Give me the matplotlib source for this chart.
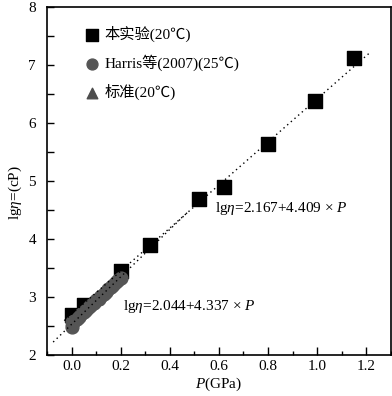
import matplotlib.pyplot as plt
from matplotlib.ticker import MultipleLocator

plt.rcParams['font.family'] = ['Liberation Serif', 'Noto Sans CJK SC', 'DejaVu Sans']
plt.rcParams['mathtext.fontset'] = 'custom'
plt.rcParams['mathtext.rm'] = 'Liberation Serif'
plt.rcParams['mathtext.it'] = 'Liberation Serif:italic'

# 本实验 (20℃)
exp_p = [0.00, 0.05, 0.20, 0.32, 0.52, 0.62, 0.80, 0.99, 1.15]
exp_lg = [2.68, 2.86, 3.45, 3.90, 4.69, 4.90, 5.64, 6.38, 7.12]

# Harris et al. (2007) (25℃)
harris_p = [0.00, 0.00, 0.01, 0.02, 0.03, 0.04, 0.05, 0.06, 0.07, 0.08, 0.09,
            0.10, 0.11, 0.12, 0.13, 0.14, 0.15, 0.16, 0.17, 0.18, 0.19, 0.20]
harris_lg = [2.48, 2.56, 2.58, 2.62, 2.66, 2.70, 2.74, 2.78, 2.82, 2.86, 2.90,
             2.94, 2.97, 3.01, 3.05, 3.09, 3.13, 3.17, 3.21, 3.25, 3.29, 3.33]

# 标准 (20℃)
std_p = [0.00, 0.10]
std_lg = [2.62, 2.98]

# fitted lines (end points)
fit1_p = [-0.03, 1.216]
fit1_lg = [2.59, 7.22]
fit2_p = [-0.075, 0.47]
fit2_lg = [2.22, 4.45]

fig = plt.figure(figsize=(3.92, 3.96), dpi=100)
ax = fig.add_axes([0.12, 0.104, 0.877, 0.878])

ax.scatter(exp_p, exp_lg, marker='s', s=90, color='black', zorder=2, label='本实验(20℃)')
ax.scatter(std_p, std_lg, marker='^', s=80, color='#4d4d4d', zorder=1.5, label='标准(20℃)')
ax.scatter(harris_p, harris_lg, marker='o', s=85, color='#555555', zorder=3, label='Harris等(2007)(25℃)')
ax.plot(fit1_p, fit1_lg, color='black', lw=1, linestyle=(0, (1, 2.5)), zorder=4)
ax.plot(fit2_p, fit2_lg, color='black', lw=1, linestyle=(0, (1, 2.5)), zorder=4)

ax.text(0.585, 4.52, r'lg$\it{\eta}$=2.167+4.409 × $\it{P}$', fontsize=11, va='center')
ax.text(0.21, 2.83, r'lg$\it{\eta}$=2.044+4.337 × $\it{P}$', fontsize=11, va='center')

handles, labels = ax.get_legend_handles_labels()
order = [0, 2, 1]
ax.legend([handles[i] for i in order], [labels[i] for i in order],
          loc='upper left', bbox_to_anchor=(0.07, 0.985), frameon=False,
          fontsize=11, labelspacing=0.83, handletextpad=0.3, handlelength=1.0,
          markerscale=0.85)

ax.set_xlim(-0.1, 1.3)
ax.set_ylim(2, 8)
ax.xaxis.set_major_locator(MultipleLocator(0.2))
ax.xaxis.set_minor_locator(MultipleLocator(0.1))
ax.yaxis.set_major_locator(MultipleLocator(1))
ax.yaxis.set_minor_locator(MultipleLocator(0.5))
ax.set_xticks([0.0, 0.2, 0.4, 0.6, 0.8, 1.0, 1.2])
ax.set_xticklabels(['0.0', '0.2', '0.4', '0.6', '0.8', '1.0', '1.2'])
ax.tick_params(axis='both', which='both', direction='in', labelsize=11, width=1)
ax.tick_params(axis='x', which='major', length=6)
ax.tick_params(axis='x', which='minor', length=3)
ax.tick_params(axis='y', which='major', length=5, pad=8)
ax.tick_params(axis='y', which='minor', length=5)
for s in ax.spines.values():
    s.set_linewidth(1.2)

ax.set_xlabel(r'$\it{P}$(GPa)', fontsize=11, labelpad=2)
ax.set_ylabel(r'lg$\it{\eta}$=(cP)', fontsize=11)
ax.yaxis.set_label_coords(-0.068, 0.468)

fig.savefig('out.png', dpi=100)
